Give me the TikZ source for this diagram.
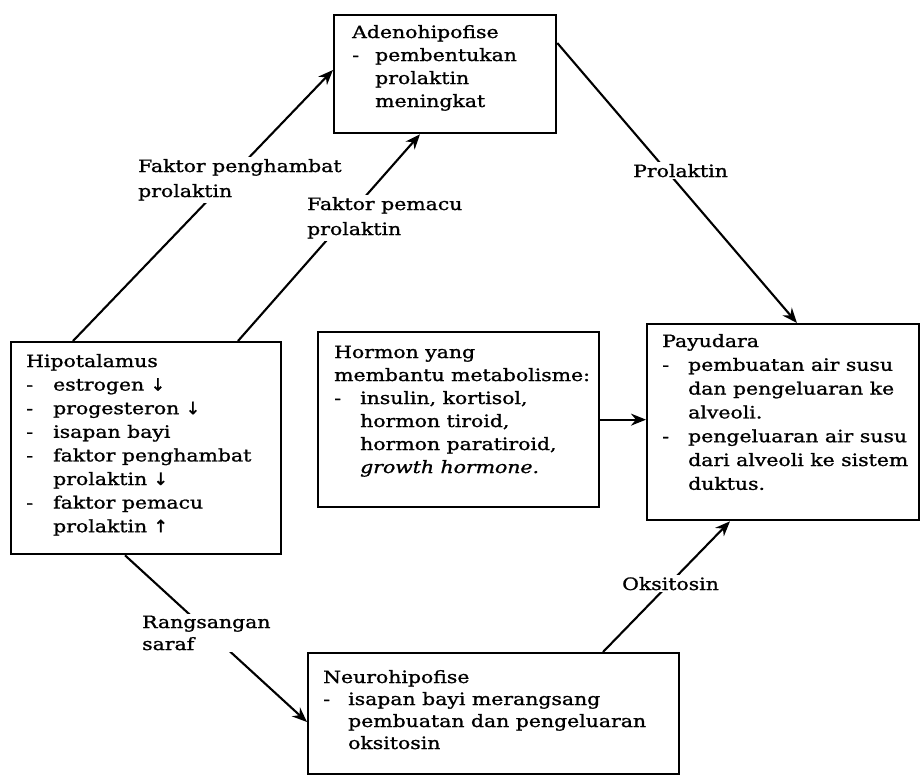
\documentclass[tikz,border=0pt]{standalone}
\usepackage{fontspec}
\setmainfont[FakeStretch=1.2,FakeBold=1.2]{DejaVu Serif}
\newfontfamily\arrfont[FakeBold=1.5]{DejaVu Sans}
\usetikzlibrary{arrows.meta,calc}
\newcommand{\dl}[1]{\makebox[#1][l]{-}}
\newcommand{\il}[1]{\hspace*{#1}}
\newcommand{\txtlines}[2]{\vtop{\baselineskip=#1\relax\lineskiplimit=-100pt\lineskip=0pt #2}}
\begin{document}
\begin{tikzpicture}[x=1pt,y=-1pt,
  box/.style={draw, line width=2.3pt, rectangle, inner sep=0pt, anchor=north west},
  txt/.style={inner sep=0pt, anchor=base west, font=\fontsize{17pt}{23pt}\selectfont},
  lbl/.style={fill=white, inner sep=2pt, anchor=base west, font=\fontsize{17pt}{23pt}\selectfont},
  conn/.style={line width=2.1pt, -{Stealth[length=15pt,width=12pt]}}]
\useasboundingbox (0,0) rectangle (922,779);
\fill[white] (0,0) rectangle (922,779);

% boxes
\node[box, minimum width=222pt, minimum height=118pt] (adeno) at (333,14) {};
\node[box, minimum width=270pt, minimum height=212pt] (hipo) at (10,341) {};
\node[box, minimum width=281pt, minimum height=175pt] (hormon) at (317,331) {};
\node[box, minimum width=272pt, minimum height=196pt] (payu) at (646,323) {};
\node[box, minimum width=371pt, minimum height=121pt] (neuro) at (307,652) {};

% box texts
\node[txt] (adenotxt) at (352,38) {\txtlines{23pt}{%
  \hbox{Adenohipofise}
  \hbox{\dl{23pt}pembentukan}
  \hbox{\il{23pt}prolaktin}
  \hbox{\il{23pt}meningkat}}};

\node[txt] (hipotxt) at (26,367) {\txtlines{23.6pt}{%
  \hbox{Hipotalamus}
  \hbox{\dl{27pt}estrogen {\arrfont ↓}}
  \hbox{\dl{27pt}progesteron {\arrfont ↓}}
  \hbox{\dl{27pt}isapan bayi}
  \hbox{\dl{27pt}faktor penghambat}
  \hbox{\il{27pt}prolaktin {\arrfont ↓}}
  \hbox{\dl{27pt}faktor pemacu}
  \hbox{\il{27pt}prolaktin {\arrfont ↑}}}};

\node[txt] (hormontxt) at (334,358) {\txtlines{23pt}{%
  \hbox{Hormon yang}
  \hbox{membantu metabolisme:}
  \hbox{\dl{26pt}insulin, kortisol,}
  \hbox{\il{26pt}hormon tiroid,}
  \hbox{\il{26pt}hormon paratiroid,}
  \hbox{\il{26pt}\textit{growth hormone.}}}};

\node[txt] (payutxt) at (662,347) {\txtlines{23.8pt}{%
  \hbox{Payudara}
  \hbox{\dl{26pt}pembuatan air susu}
  \hbox{\il{26pt}dan pengeluaran ke}
  \hbox{\il{26pt}alveoli.}
  \hbox{\dl{26pt}pengeluaran air susu}
  \hbox{\il{26pt}dari alveoli ke sistem}
  \hbox{\il{26pt}duktus.}}};

\node[txt] (neurotxt) at (323,683) {\txtlines{22pt}{%
  \hbox{Neurohipofise}
  \hbox{\dl{25pt}isapan bayi merangsang}
  \hbox{\il{25pt}pembuatan dan pengeluaran}
  \hbox{\il{25pt}oksitosin}}};

% connectors
\draw[conn] ($(hipo.north west)+(63,0)$) -- ($(adeno.north west)+(0,56)$);
\draw[conn] ($(hipo.north west)+(228,0)$) -- ($(adeno.south west)+(87,0)$);
\draw[conn] ($(adeno.north east)+(0,29)$) -- ($(payu.north west)+(151,0)$);
\draw[conn] (hormon.east) -- (hormon.east -| payu.west);
\draw[conn] ($(hipo.south west)+(115,0)$) -- ($(neuro.north west)+(0,70)$);
\draw[conn] ($(neuro.north west)+(296,0)$) -- ($(payu.south west)+(84,0)$);

% connector labels
\node[lbl] (lpenghambat) at (136,172) {\txtlines{25pt}{\hbox{Faktor penghambat}\hbox{prolaktin}}};
\node[lbl] (lpemacu) at (305,210) {\txtlines{25pt}{\hbox{Faktor pemacu}\hbox{prolaktin}}};
\node[lbl] (lprolaktin) at (631,177) {Prolaktin};
\node[lbl] (lrangsang) at (140,628) {\txtlines{22pt}{\hbox{Rangsangan}\hbox{saraf}}};
\node[lbl] (loksitosin) at (620,590) {Oksitosin};
\end{tikzpicture}
\end{document}
